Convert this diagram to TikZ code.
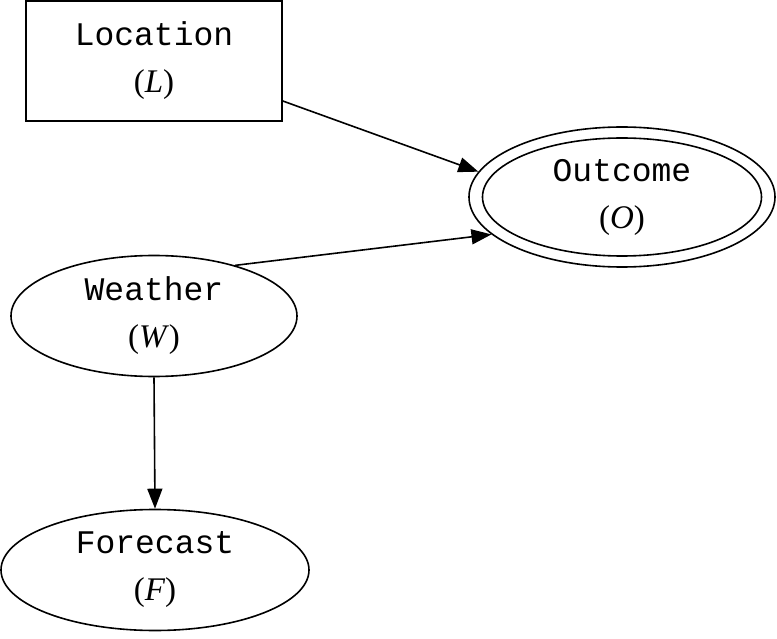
\documentclass[tikz,border=0pt]{standalone}
\usepackage{fontspec}
\setmainfont{Liberation Serif}
\newfontfamily\monof{Liberation Mono}
\usetikzlibrary{shapes.geometric,arrows.meta}
\tikzset{
 lbl/.style={align=center,font=\fontsize{33}{47}\selectfont,inner sep=0pt},
 ell/.style={ellipse,draw,line width=1.6pt,inner sep=0pt},
 arr/.style={line width=1.6pt,-{Triangle[length=20pt,width=15pt]}}
}
\begin{document}
\begin{tikzpicture}[x=1pt,y=-1pt]
\useasboundingbox (0,0) rectangle (777,639);
\node[draw,line width=1.6pt,minimum width=256pt,minimum height=120pt,lbl] (L) at (154,61) {{\monof Location}\\(\textit{L})};
\node[ell,minimum width=306pt,minimum height=140pt] (O) at (622,197) {};
\node[ell,minimum width=279pt,minimum height=118pt,lbl] (Oi) at (622,197) {{\monof Outcome}\\(\textit{O})};
\node[ell,minimum width=286pt,minimum height=121pt,lbl] (W) at (154,316) {{\monof Weather}\\(\textit{W})};
\node[ell,minimum width=308pt,minimum height=121pt,lbl] (F) at (155,570) {{\monof Forecast}\\(\textit{F})};
\draw[arr] (L.east |- 0,101) -- (O.170);
\draw[arr] (W.32) -- (O.196);
\draw[arr] (W.south) -- (F.north);
\end{tikzpicture}
\end{document}
